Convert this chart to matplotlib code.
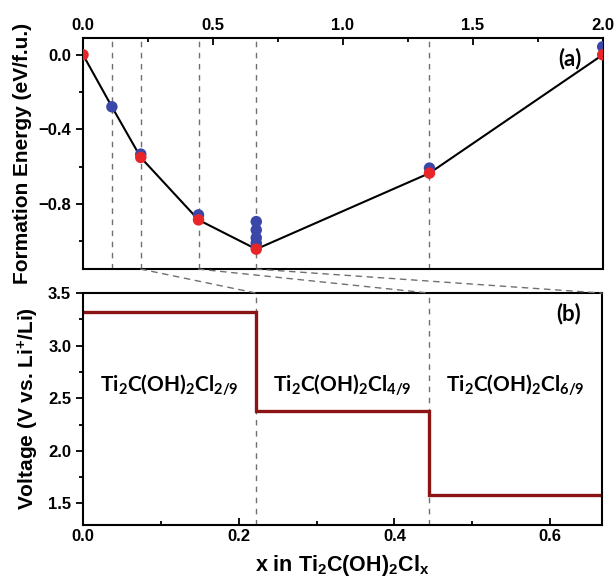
import matplotlib.pyplot as plt
from matplotlib.patches import ConnectionPatch

# panel (a) data: formation energy vs x (0..2)
hull_x = [0, 1/9, 2/9, 4/9, 6/9, 12/9, 2]
hull_e = [0.0, -0.279, -0.551, -0.886, -1.043, -0.635, 0.0]

blue_x = [1/9, 2/9, 4/9, 6/9, 6/9, 6/9, 6/9, 6/9, 12/9, 2]
blue_e = [-0.279, -0.533, -0.859, -0.895, -0.94, -0.982, -1.01, -1.03, -0.608, 0.043]

red_x = [0, 2/9, 4/9, 6/9, 12/9, 2]
red_e = [0.0, -0.551, -0.886, -1.043, -0.635, 0.0]

vlines_a = [1/9, 2/9, 4/9, 6/9, 12/9]

# panel (b) data: voltage plateaus
step_x = [0, 2/9, 2/9, 4/9, 4/9, 6/9]
step_v = [3.32, 3.32, 2.375, 2.375, 1.58, 1.58]
vlines_b = [2/9, 4/9]
phase_x = [1/9, 3/9, 5/9]
phase_labels = [r'Ti$_2$C(OH)$_2$Cl$_{2/9}$',
                r'Ti$_2$C(OH)$_2$Cl$_{4/9}$',
                r'Ti$_2$C(OH)$_2$Cl$_{6/9}$']

plt.rcParams['font.family'] = ['Liberation Sans', 'DejaVu Sans']
plt.rcParams['font.weight'] = 'bold'
plt.rcParams['mathtext.default'] = 'regular'
plt.rcParams['axes.linewidth'] = 1.5

fig = plt.figure(figsize=(6.15, 5.85), dpi=100)
ax1 = fig.add_axes([0.135, 0.540, 0.845, 0.395])
ax2 = fig.add_axes([0.135, 0.1034, 0.844, 0.3956])

dash_style = dict(color='#707070', lw=1.0, ls=(0, (4, 4)))

# ---- top panel
for xv in vlines_a:
    ax1.axvline(xv, **dash_style)
ax1.plot(hull_x, hull_e, color='black', lw=1.5, zorder=3)
ax1.scatter(blue_x, blue_e, s=68, color='#3a46a8', zorder=4, edgecolors='none')
ax1.scatter(red_x, red_e, s=68, color='#e8262a', zorder=5, edgecolors='none')
ax1.set_xlim(0, 2)
ax1.set_ylim(-1.15, 0.09)
ax1.xaxis.tick_top()
ax1.set_xticks([0, 0.5, 1.0, 1.5, 2.0])
ax1.set_xticks([0.25, 0.75, 1.25, 1.75], minor=True)
ax1.set_yticks([0.0, -0.4, -0.8])
ax1.set_yticks([-0.2, -0.6, -1.0], minor=True)
ax1.tick_params(axis='x', which='both', direction='in', top=True, bottom=False,
                labelsize=12, width=1.3)
ax1.tick_params(axis='x', which='major', length=5)
ax1.tick_params(axis='x', which='minor', length=3)
ax1.tick_params(axis='y', which='major', direction='out', length=5, width=1.3, labelsize=12)
ax1.tick_params(axis='y', which='minor', direction='out', length=3, width=1.3)
ax1.set_ylabel('Formation Energy (eV/f.u.)', fontsize=15, fontweight='bold', labelpad=5)
ax1.text(0.96, 0.913, '(a)', transform=ax1.transAxes, family='Lato', fontweight='bold',
         fontsize=16, ha='right', va='center')

# ---- bottom panel
for xv in vlines_b:
    ax2.axvline(xv, **dash_style)
ax2.plot(step_x, step_v, color='#8b1515', lw=2.4, solid_joinstyle='miter')
ax2.set_xlim(0, 2/3)
ax2.set_ylim(1.3, 3.5)
ax2.set_xticks([0.0, 0.2, 0.4, 0.6])
ax2.set_xticks([0.1, 0.3, 0.5], minor=True)
ax2.set_yticks([1.5, 2.0, 2.5, 3.0, 3.5])
ax2.set_yticks([1.75, 2.25, 2.75, 3.25], minor=True)
ax2.tick_params(axis='x', which='both', direction='in', width=1.3, labelsize=12)
ax2.tick_params(axis='x', which='major', length=5)
ax2.tick_params(axis='x', which='minor', length=3)
ax2.tick_params(axis='y', which='major', direction='out', length=5, width=1.3, labelsize=12)
ax2.tick_params(axis='y', which='minor', direction='out', length=3, width=1.3)
ax2.set_ylabel(r'Voltage (V vs. Li$^{+}$/Li)', fontsize=15, fontweight='bold', labelpad=5)
ax2.set_xlabel(r'x in Ti$_2$C(OH)$_2$Cl$_x$', fontsize=15.5, fontweight='bold', labelpad=6)
for px, lab in zip(phase_x, phase_labels):
    ax2.text(px, 2.62, lab, family='Lato', fontweight='bold', fontsize=15,
             ha='center', va='center')
ax2.text(0.96, 0.913, '(b)', transform=ax2.transAxes, family='Lato', fontweight='bold',
         fontsize=16, ha='right', va='center')

# dashed links between the two panels
for xv in [2/9, 4/9, 6/9]:
    con = ConnectionPatch(xyA=(xv, -1.15), coordsA=ax1.transData,
                          xyB=(xv, 3.5), coordsB=ax2.transData, **dash_style)
    fig.add_artist(con)

fig.savefig('out.png', dpi=100)
